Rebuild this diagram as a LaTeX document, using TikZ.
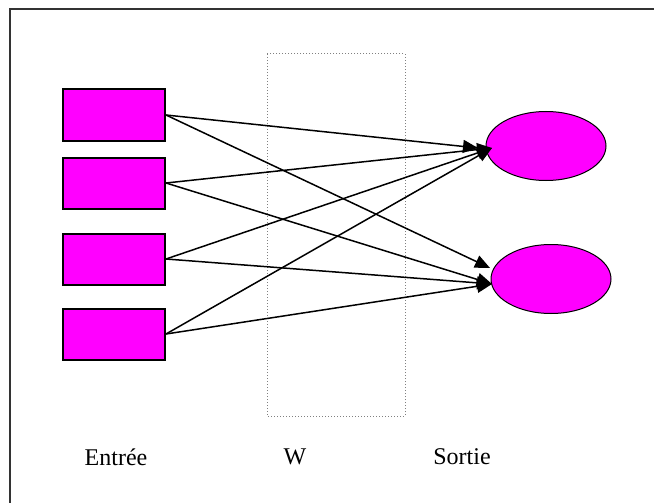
\documentclass[tikz,border=0pt]{standalone}
\usepackage{fontspec}
\setmainfont{Liberation Serif}
\usetikzlibrary{arrows.meta,shapes.geometric}
\definecolor{neuron}{RGB}{255,0,255}
\tikzset{
  inbox/.style={draw=black, line width=2pt, fill=neuron, minimum width=102pt, minimum height=51pt, inner sep=0pt},
  outcell/.style={draw=black, line width=1pt, fill=neuron, ellipse, minimum width=120pt, minimum height=69pt, inner sep=0pt},
  weight/.style={draw=black, line width=1.5pt, -{Triangle[length=15pt,width=13pt]}},
  caption/.style={font=\fontsize{24}{28}\selectfont}
}
\begin{document}
\begin{tikzpicture}[x=1pt,y=-1pt]
\useasboundingbox (0,0) rectangle (654,503);
% outer frame (only top and left edges fall inside the page)
\draw[line width=2pt, black!80, line cap=butt] (9.5,503) -- (9.5,9.5) -- (654,9.5);
% weight matrix region
\draw[gray, dotted, line width=1pt] (267,54) rectangle (405,416);
% input units
\node[inbox] (i1) at (114,115) {};
\node[inbox] (i2) at (114,183) {};
\node[inbox] (i3) at (114,259) {};
\node[inbox] (i4) at (114,334) {};
% output units
\node[outcell] (o1) at (546,146) {};
\node[outcell] (o2) at (551,279) {};
% arrow end points near the output units
\coordinate (t1) at (478,148);
\coordinate (t2) at (492,148);
\coordinate (b1) at (490,268);
\coordinate (b2) at (492,284);
% connections
\draw[weight] (i1.east) -- (t1);
\draw[weight] (i1.east) -- (b1);
\draw[weight] (i2.east) -- (t2);
\draw[weight] (i2.east) -- (b2);
\draw[weight] (i3.east) -- (t2);
\draw[weight] (i3.east) -- (b2);
\draw[weight] (i4.east) -- (t2);
\draw[weight] (i4.east) -- (b2);
% captions
\node[caption] (lin) at (116,457) {Entrée};
\node[caption] (lw) at (295,457) {W};
\node[caption] (lout) at (462,457) {Sortie};
\end{tikzpicture}
\end{document}
